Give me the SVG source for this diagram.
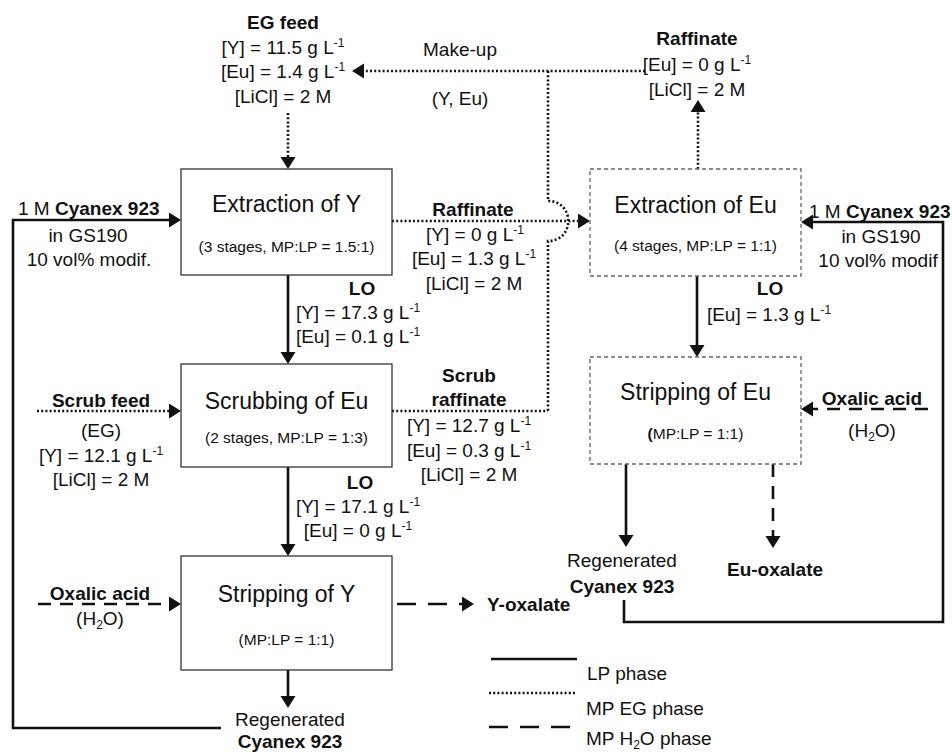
<svg xmlns="http://www.w3.org/2000/svg" width="952" height="752" viewBox="0 0 952 752">
<defs>
<style>
text{font-family:"Liberation Sans",Arial,sans-serif;font-size:19px;fill:#111}
.m{text-anchor:middle}
.b{font-weight:bold}
.ti{font-size:23px}
.sb{font-size:15.5px}
.sp{font-size:12px}
.box{fill:#fff;stroke:#333;stroke-width:1.3}
.dbox{fill:#fff;stroke:#666;stroke-width:1.3;stroke-dasharray:4 3}
.c{fill:none;stroke:#111;stroke-width:2.6}
.dot{stroke-dasharray:2 2.2}
.dash{stroke-dasharray:13 9}
.ldash{stroke-dasharray:19 12}
</style>
<marker id="ah" markerUnits="userSpaceOnUse" markerWidth="14" markerHeight="16" refX="8" refY="7.5" orient="auto">
<path d="M0,0 L12,7.5 L0,15 z" fill="#111"/>
</marker>
</defs>
<rect width="952" height="752" fill="#fff"/>

<g id="connectors">
<path class="c dot" d="M288,113 V165" marker-end="url(#ah)"/>
<path class="c dot" d="M645,71 H356" marker-end="url(#ah)"/>
<path class="c dot" d="M548,71 V201 C575,201 575,241 548,241 V411"/>
<path class="c dot" d="M392,221 H586" marker-end="url(#ah)"/>
<path class="c dot" d="M392,411 H548"/>
<path class="c dot" d="M698,169 V104" marker-end="url(#ah)"/>
<path class="c dot" d="M37,411 H177" marker-end="url(#ah)"/>
<path class="c" d="M221,728 H13 V220 H177" marker-end="url(#ah)"/>
<path class="c" d="M288,275 V360" marker-end="url(#ah)"/>
<path class="c" d="M288,467 V552" marker-end="url(#ah)"/>
<path class="c" d="M288,670 V704" marker-end="url(#ah)"/>
<path class="c dash" d="M38,604 H177" marker-end="url(#ah)"/>
<path class="c ldash" d="M397,604 H470" marker-end="url(#ah)"/>
<path class="c" d="M624,600 V622 H943 V222 H805" marker-end="url(#ah)"/>
<path class="c" d="M697,276 V353" marker-end="url(#ah)"/>
<path class="c dash" d="M928,409 H805" marker-end="url(#ah)"/>
<path class="c" d="M626,464 V543" marker-end="url(#ah)"/>
<path class="c dash" d="M773,464 V544" marker-end="url(#ah)"/>
</g>

<g id="extraction-y">
<rect class="box" x="181" y="169" width="211" height="106"/>
<text class="m ti" x="286.5" y="212">Extraction of Y</text>
<text class="m sb" x="286.5" y="252">(3 stages,  MP:LP = 1.5:1)</text>
</g>
<g id="scrubbing-eu">
<rect class="box" x="181" y="364" width="211" height="103"/>
<text class="m ti" x="286.5" y="409">Scrubbing of Eu</text>
<text class="m sb" x="286.5" y="443">(2 stages, MP:LP = 1:3)</text>
</g>
<g id="stripping-y">
<rect class="box" x="181" y="556" width="211" height="114"/>
<text class="m ti" x="286.5" y="602">Stripping of Y</text>
<text class="m sb" x="286.5" y="645">(MP:LP = 1:1)</text>
</g>
<g id="extraction-eu">
<rect class="dbox" x="590" y="169" width="211" height="107"/>
<text class="m ti" x="695.5" y="213">Extraction of Eu</text>
<text class="m sb" x="695.5" y="251">(4 stages,  MP:LP = 1:1)</text>
</g>
<g id="stripping-eu">
<rect class="dbox" x="590" y="357" width="211" height="107"/>
<text class="m ti" x="695.5" y="400">Stripping of Eu</text>
<text class="m sb" x="695.5" y="439"><tspan class="b">(</tspan>MP:LP = 1:1)</text>
</g>

<g id="eg-feed">
<text class="m b" x="283" y="29">EG feed</text>
<text class="m" x="283" y="54">[Y] = 11.5 g L<tspan class="sp" dy="-7">-1</tspan></text>
<text class="m" x="283" y="78">[Eu] = 1.4 g L<tspan class="sp" dy="-7">-1</tspan></text>
<text class="m" x="283" y="103">[LiCl] = 2 M</text>
</g>
<g id="make-up">
<text class="m" x="460" y="56">Make-up</text>
<text class="m" x="460" y="105">(Y, Eu)</text>
</g>
<g id="raffinate-eu">
<text class="m b" x="697" y="45">Raffinate</text>
<text class="m" x="697" y="71">[Eu] = 0 g L<tspan class="sp" dy="-7">-1</tspan></text>
<text class="m" x="697" y="96">[LiCl] = 2 M</text>
</g>
<g id="cyanex-left">
<text x="18" y="215">1 M <tspan class="b">Cyanex 923</tspan></text>
<text class="m" x="88" y="242">in GS190</text>
<text class="m" x="89" y="266">10 vol% modif.</text>
</g>
<g id="raffinate-y">
<text class="m b" x="473" y="216">Raffinate</text>
<text class="m" x="475" y="241">[Y] = 0 g L<tspan class="sp" dy="-7">-1</tspan></text>
<text class="m" x="474" y="265">[Eu] = 1.3 g L<tspan class="sp" dy="-7">-1</tspan></text>
<text class="m" x="474" y="290">[LiCl] = 2 M</text>
</g>
<g id="cyanex-right">
<text x="809" y="218">1 M <tspan class="b">Cyanex 923</tspan></text>
<text class="m" x="881" y="243">in GS190</text>
<text class="m" x="878" y="267">10 vol% modif</text>
</g>
<g id="lo-y">
<text class="m b" x="362" y="295">LO</text>
<text class="m" x="358" y="319">[Y] = 17.3 g L<tspan class="sp" dy="-7">-1</tspan></text>
<text class="m" x="358" y="343">[Eu] = 0.1 g L<tspan class="sp" dy="-7">-1</tspan></text>
</g>
<g id="lo-eu">
<text class="m b" x="770" y="295">LO</text>
<text class="m" x="769" y="321">[Eu] = 1.3 g L<tspan class="sp" dy="-7">-1</tspan></text>
</g>
<g id="scrub-feed">
<text class="m b" x="101" y="407">Scrub feed</text>
<text class="m" x="101" y="437">(EG)</text>
<text class="m" x="101" y="462">[Y] = 12.1 g L<tspan class="sp" dy="-7">-1</tspan></text>
<text class="m" x="101" y="486">[LiCl] = 2 M</text>
</g>
<g id="scrub-raffinate">
<text class="m b" x="469" y="382">Scrub</text>
<text class="m b" x="469" y="406">raffinate</text>
<text class="m" x="469" y="432">[Y] = 12.7 g L<tspan class="sp" dy="-7">-1</tspan></text>
<text class="m" x="469" y="457">[Eu] = 0.3 g L<tspan class="sp" dy="-7">-1</tspan></text>
<text class="m" x="469" y="481">[LiCl] = 2 M</text>
</g>
<g id="oxalic-right">
<text class="m b" x="872" y="405">Oxalic acid</text>
<text class="m" x="872" y="437">(H<tspan class="sp" dy="4">2</tspan><tspan dy="-4">O)</tspan></text>
</g>
<g id="lo-scrub">
<text class="m b" x="360" y="489">LO</text>
<text class="m" x="358" y="513">[Y] = 17.1 g L<tspan class="sp" dy="-7">-1</tspan></text>
<text class="m" x="358" y="537">[Eu] = 0 g L<tspan class="sp" dy="-7">-1</tspan></text>
</g>
<g id="regenerated-right">
<text class="m" x="622" y="567">Regenerated</text>
<text class="m b" x="622" y="593">Cyanex 923</text>
</g>
<g id="eu-oxalate">
<text class="m b" x="775" y="576">Eu-oxalate</text>
</g>
<g id="oxalic-left">
<text class="m b" x="100" y="600">Oxalic acid</text>
<text class="m" x="100" y="625">(H<tspan class="sp" dy="4">2</tspan><tspan dy="-4">O)</tspan></text>
</g>
<g id="y-oxalate">
<text class="b" x="487" y="611">Y-oxalate</text>
</g>
<g id="regenerated-left">
<text class="m" x="290" y="726">Regenerated</text>
<text class="m b" x="290" y="748">Cyanex 923</text>
</g>
<g id="legend">
<path class="c" d="M491,659 H577"/>
<path class="c dot" d="M489,693 H576"/>
<path class="c ldash" d="M489,727 H576"/>
<text x="587" y="680">LP phase</text>
<text x="586" y="715">MP EG phase</text>
<text x="586" y="745">MP H<tspan class="sp" dy="4">2</tspan><tspan dy="-4">O phase</tspan></text>
</g>
</svg>
